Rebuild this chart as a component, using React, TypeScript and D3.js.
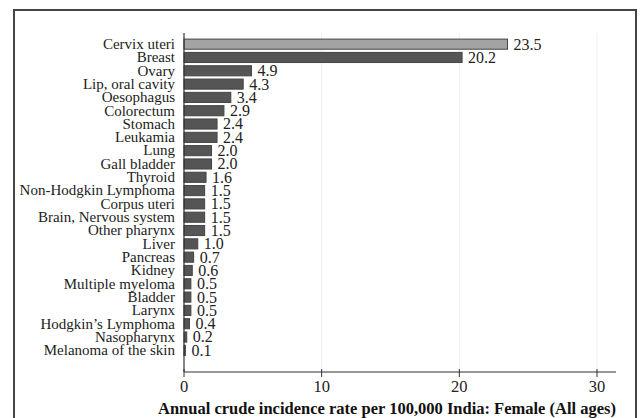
import React from "react";
import * as d3 from "d3";

const categories = [
  "Cervix uteri", "Breast", "Ovary", "Lip, oral cavity", "Oesophagus", "Colorectum",
  "Stomach", "Leukamia", "Lung", "Gall bladder", "Thyroid", "Non-Hodgkin Lymphoma",
  "Corpus uteri", "Brain, Nervous system", "Other pharynx", "Liver", "Pancreas", "Kidney",
  "Multiple myeloma", "Bladder", "Larynx", "Hodgkin\u2019s Lymphoma", "Nasopharynx", "Melanoma of the skin",
];
const values = [
  23.5, 20.2, 4.9, 4.3, 3.4, 2.9, 2.4, 2.4, 2.0, 2.0, 1.6, 1.5, 1.5, 1.5, 1.5, 1.0, 0.7, 0.6,
  0.5, 0.5, 0.5, 0.4, 0.2, 0.1,
];
const ticks = [0, 10, 20, 30];
const axisTitle = "Annual crude incidence rate per 100,000 India: Female (All ages)";

export default function App() {
  const W = 643, H = 418;
  const x = d3.scaleLinear().domain([0, 30]).range([184, 597]);
  const y = d3.scaleBand<string>().domain(categories).range([37.5, 357]).paddingInner(0.24).paddingOuter(0.12);
  const font = "'Liberation Serif', 'Times New Roman', serif";
  const axisY = 372;
  return (
    <svg width={W} height={H} style={{ position: "absolute", left: 0, top: 0, background: "#fff" }} fontFamily={font}>
      <rect x={14} y={10} width={622} height={440} fill="none" stroke="#444" strokeWidth={2} />
      {ticks.filter(t => t > 0).map(t => (
        <line key={"g" + t} x1={x(t)} x2={x(t)} y1={33} y2={axisY} stroke="#eceff1" strokeWidth={1} />
      ))}
      {categories.map((c, i) => {
        const yy = y(c)!;
        const bh = y.bandwidth();
        return (
          <g key={c}>
            <rect x={x(0)} y={yy} width={x(values[i]) - x(0)} height={bh}
              fill={i === 0 ? "#a3a3a3" : "#555"} stroke="#444" strokeWidth={1} />
            <text x={175} y={yy + bh / 2} dy="0.32em" textAnchor="end" fontSize={15} fill="#222">{c}</text>
            <text x={x(values[i]) + 6} y={yy + bh / 2} dy="0.34em" fontSize={16} fill="#222">{values[i].toFixed(1)}</text>
          </g>
        );
      })}
      <line x1={x(0)} x2={x(0)} y1={33} y2={axisY} stroke="#333" strokeWidth={1.2} />
      <line x1={x(0)} x2={616} y1={axisY} y2={axisY} stroke="#333" strokeWidth={1.2} />
      {ticks.map(t => (
        <g key={t}>
          <line x1={x(t)} x2={x(t)} y1={axisY - 3} y2={axisY + 5} stroke="#333" strokeWidth={1} />
          <text x={x(t)} y={392} textAnchor="middle" fontSize={16.5} fill="#222">{t}</text>
        </g>
      ))}
      <text x={387} y={414} textAnchor="middle" fontSize={16.5} fontWeight="bold" fill="#111">{axisTitle}</text>
    </svg>
  );
}
